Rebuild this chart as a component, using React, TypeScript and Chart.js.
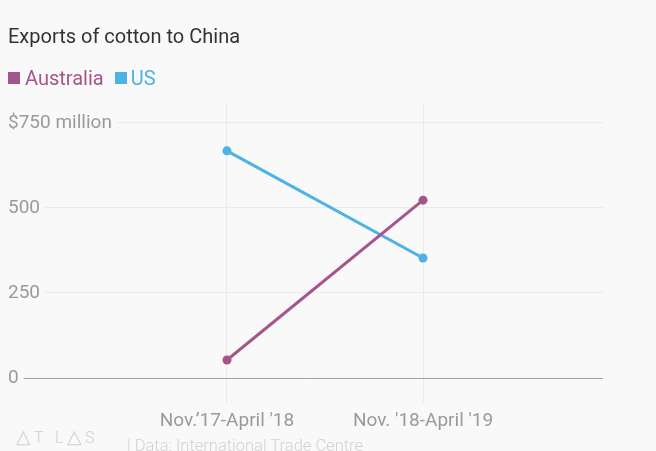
import React, { useEffect, useRef } from "react";
import { Chart, registerables } from "chart.js";

Chart.register(...registerables);

const title = "Exports of cotton to China";
const categories = ["Nov.\u201917-April '18", "Nov. '18-April '19"];
const seriesNames = ["Australia", "US"];
const australia = [53, 523];
const us = [668, 353];
const yTicks = [0, 250, 500, 750];
const source = "| Data: International Trade Centre";

const PURPLE = "#a6558b";
const BLUE = "#4fb2e5";
const BG = "#f9f9f9";
const FONT = "Roboto, 'Noto Sans', sans-serif";

export default function App() {
  const ref = useRef<HTMLCanvasElement | null>(null);

  useEffect(() => {
    if (!ref.current) return;
    const chart = new Chart(ref.current, {
      type: "line",
      data: {
        datasets: [
          {
            label: seriesNames[0],
            data: australia.map((v, i) => ({ x: i, y: v })),
            borderColor: PURPLE,
            backgroundColor: PURPLE,
            borderWidth: 3,
            pointRadius: 4.5,
            pointBorderWidth: 0,
          },
          {
            label: seriesNames[1],
            data: us.map((v, i) => ({ x: i, y: v })),
            borderColor: BLUE,
            backgroundColor: BLUE,
            borderWidth: 3,
            pointRadius: 4.5,
            pointBorderWidth: 0,
          },
        ],
      },
      options: {
        animation: false,
        responsive: false,
        maintainAspectRatio: false,
        layout: { padding: { left: 8, right: 53, top: 103, bottom: 0 } },
        plugins: {
          legend: { display: false },
          title: { display: false },
          tooltip: { enabled: false },
        },
        scales: {
          x: {
            type: "linear",
            min: -1.117,
            max: 1.918,
            afterBuildTicks: (s: any) => {
              s.ticks = categories.map((_, i) => ({ value: i }));
            },
            afterFit: (s: any) => {
              s.height = 73;
            },
            border: { display: false },
            grid: { color: "#ebebeb", lineWidth: 1, tickLength: 25, drawTicks: true },
            ticks: {
              color: "#9a9a9a",
              font: { family: FONT, size: 19 },
              padding: 7,
              maxRotation: 0,
              autoSkip: false,
              callback: (v: any) => categories[v as number] ?? "",
            },
          },
          y: {
            type: "linear",
            min: 0,
            max: 808.8,
            afterBuildTicks: (s: any) => {
              s.ticks = yTicks.map((v) => ({ value: v }));
            },
            afterFit: (s: any) => {
              s.width = 0;
            },
            border: { display: false },
            grid: {
              drawTicks: false,
              lineWidth: 1,
              color: (ctx: any) => (ctx.tick && ctx.tick.value === 0 ? "#9e9e9e" : "#ebebeb"),
            },
            ticks: {
              mirror: true,
              padding: 0,
              color: "#9a9a9a",
              font: { family: FONT, size: 19 },
              showLabelBackdrop: true,
              backdropColor: BG,
              backdropPadding: { left: 0, right: 5, top: 2, bottom: 2 },
              callback: (v: any) => (v === 750 ? "$750 million" : String(v)),
            },
          },
        },
      },
    } as any);
    return () => chart.destroy();
  }, []);

  const logo: [string, number, number][] = [
    ["\u25B3", 16, 19],
    ["T", 34, 16],
    ["L", 55, 16],
    ["\u25B3", 67, 19],
    ["S", 85, 16],
  ];

  return (
    <div style={{ position: "fixed", inset: 0, background: BG, fontFamily: FONT, overflow: "hidden" }}>
      <canvas ref={ref} width={656} height={451} style={{ position: "absolute", left: 0, top: 0, width: 656, height: 451 }} />
      <div style={{ position: "absolute", left: 8, top: 24, fontSize: 20, color: "#333", whiteSpace: "nowrap" }}>{title}</div>
      <div style={{ position: "absolute", left: 8, top: 66, fontSize: 20, whiteSpace: "nowrap", display: "flex", alignItems: "center" }}>
        <span style={{ display: "inline-block", width: 12, height: 12, background: PURPLE, marginRight: 5 }} />
        <span style={{ color: PURPLE, marginRight: 11 }}>{seriesNames[0]}</span>
        <span style={{ display: "inline-block", width: 12, height: 12, background: BLUE, marginRight: 4 }} />
        <span style={{ color: BLUE }}>{seriesNames[1]}</span>
      </div>
      {logo.map(([ch, x, size], i) => (
        <div
          key={i}
          style={{
            position: "absolute",
            left: x,
            top: 446,
            transform: "translateY(-100%)",
            fontSize: size,
            lineHeight: 1,
            color: "#d0d0d0",
            fontWeight: 300,
          }}
        >
          {ch}
        </div>
      ))}
      <div style={{ position: "absolute", left: 127, top: 436, fontSize: 16.5, color: "#d2d2d2", fontWeight: 300, whiteSpace: "nowrap" }}>
        {source}
      </div>
    </div>
  );
}
